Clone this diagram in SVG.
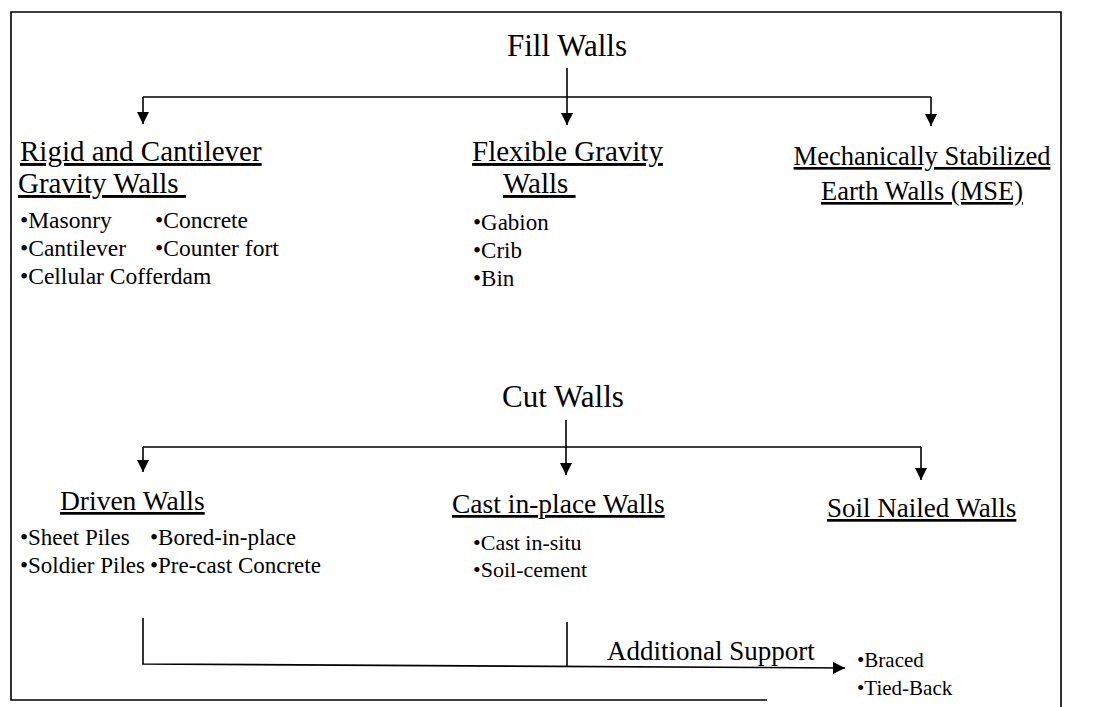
<svg xmlns="http://www.w3.org/2000/svg" width="1118" height="707" viewBox="0 0 1118 707">
<style>
text{font-family:"Liberation Serif","Times New Roman",serif;fill:#000}
.title{font-size:31px;text-anchor:middle}
.head{text-decoration:underline}
.ln{stroke:#000;stroke-width:1.6;fill:none}
</style>
<defs>
<marker id="ah" viewBox="0 0 12 12" refX="12" refY="6" markerWidth="12" markerHeight="12" markerUnits="userSpaceOnUse" orient="auto">
<path d="M0,0 L12,6 L0,12 Z" fill="#000"/>
</marker>
</defs>
<rect width="1118" height="707" fill="#fff"/>
<path id="frame" class="ln" d="M767,700 L11,700 L11,12 L1061,12 L1061,707"/>
<g id="connectors">
<path class="ln" d="M567,68 L567,125" marker-end="url(#ah)"/>
<path class="ln" d="M143,97 L931,97"/>
<path class="ln" d="M143,97 L143,124" marker-end="url(#ah)"/>
<path class="ln" d="M931,97 L931,126" marker-end="url(#ah)"/>
<path class="ln" d="M566,420 L566,475" marker-end="url(#ah)"/>
<path class="ln" d="M143,447 L921,447"/>
<path class="ln" d="M143,447 L143,472" marker-end="url(#ah)"/>
<path class="ln" d="M921,447 L921,480" marker-end="url(#ah)"/>
<path class="ln" d="M143,618 L143,664 L845,668" marker-end="url(#ah)"/>
<path class="ln" d="M567,622 L567,666"/>
</g>
<g id="fill-walls"><text class="title" x="567" y="56" font-size="32">Fill Walls</text></g>
<g id="rigid" font-size="23.5">
<text class="head" x="20" y="161" font-size="29">Rigid and Cantilever</text>
<text class="head" x="18" y="193" font-size="29" xml:space="preserve">Gravity Walls </text>
<text x="20" y="228">•Masonry</text>
<text x="155" y="228">•Concrete</text>
<text x="20" y="256">•Cantilever</text>
<text x="155" y="256">•Counter fort</text>
<text x="20" y="284">•Cellular Cofferdam</text>
</g>
<g id="flexible" font-size="23">
<text class="head" x="472" y="161" font-size="29">Flexible Gravity</text>
<text class="head" x="503" y="193" font-size="29" xml:space="preserve">Walls </text>
<text x="473" y="230">•Gabion</text>
<text x="473" y="258">•Crib</text>
<text x="473" y="286">•Bin</text>
</g>
<g id="mse" font-size="26.5">
<text class="head" x="922" y="165" text-anchor="middle">Mechanically Stabilized</text>
<text class="head" x="922" y="200" text-anchor="middle">Earth Walls (MSE)</text>
</g>
<g id="cut-walls"><text class="title" x="563" y="407" font-size="30">Cut Walls</text></g>
<g id="driven" font-size="23">
<text class="head" x="60" y="510" font-size="27.5">Driven Walls</text>
<text x="20" y="545">•Sheet Piles</text>
<text x="150" y="545">•Bored-in-place</text>
<text x="20" y="573">•Soldier Piles</text>
<text x="150" y="573">•Pre-cast Concrete</text>
</g>
<g id="cast" font-size="22">
<text class="head" x="452" y="513" font-size="27.5">Cast in-place Walls</text>
<text x="473" y="550">•Cast in-situ</text>
<text x="473" y="577">•Soil-cement</text>
</g>
<g id="soil-nailed"><text class="head" x="827" y="517" font-size="27">Soil Nailed Walls</text></g>
<g id="additional" font-size="21">
<text x="607" y="660" font-size="27">Additional Support</text>
<text x="857" y="667">•Braced</text>
<text x="857" y="695">•Tied-Back</text>
</g>
</svg>
